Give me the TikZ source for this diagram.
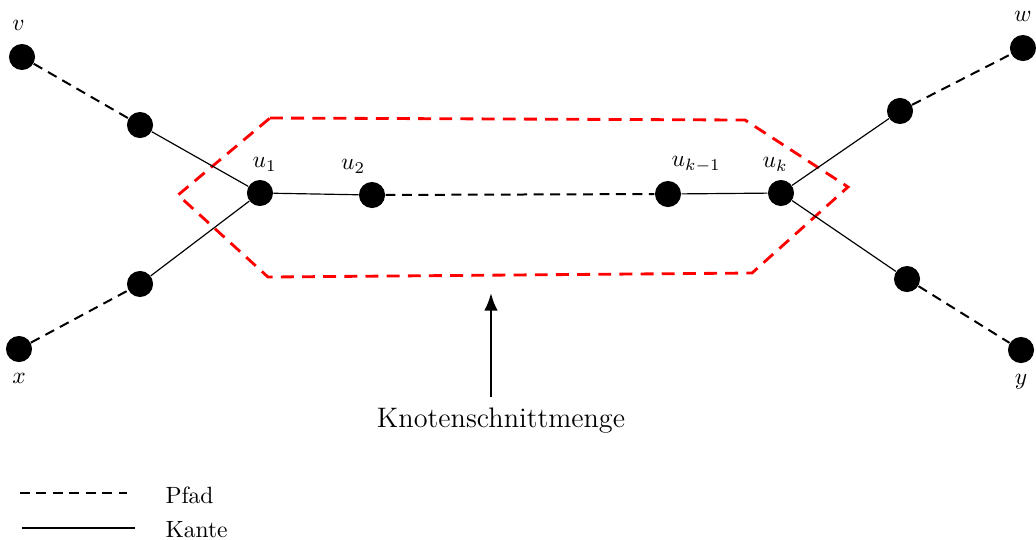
\documentclass[tikz,border=0pt]{standalone}
\usepackage{tikz}
\usetikzlibrary{arrows.meta}
\tikzstyle{vertex} = [circle, fill=black, minimum size=0.39cm, inner sep=0pt]
\tikzstyle{pfad} = [line width=0.85pt, dash pattern=on 4.2pt off 2.8pt]
\tikzstyle{kante} = [line width=0.5pt]
\tikzstyle{schnitt} = [red, line width=1.2pt, dash pattern=on 5.5pt off 3.5pt]
\tikzstyle{arrow} = [line width=1pt, -{Latex[length=7.5pt,width=5.8pt]}]

\begin{document}
\begin{tikzpicture}
        \useasboundingbox (0,0) rectangle (15.486,8.057);

        % the separating vertex set
        \draw [schnitt] (4.036,6.293) -- (11.136,6.263) -- (12.676,5.262) -- (11.241,3.976)
              -- (4.006,3.916) -- (2.661,5.142) -- cycle;

        \node (v) [vertex, label={[xshift=-1.5pt, label distance=2pt]above:$v$}] at (0.329,7.205) {};
        \node (v1) [vertex] at (2.093,6.188) {};
        \node (u1) [vertex, label={[xshift=2pt]above:$u_1$}] at (3.886,5.172) {};
        \node (u2) [vertex, label={[xshift=-8pt]above:$u_2$}] at (5.561,5.142) {};
        \node (uk1) [vertex, label={[xshift=12pt]above:$u_{k-1}$}] at (9.985,5.157) {};
        \node (uk) [vertex, label={[xshift=-2.5pt]above:$u_k$}] at (11.674,5.172) {};
        \node (w1) [vertex] at (13.453,6.398) {};
        \node (w) [vertex, label={[label distance=2pt]above:$w$}] at (15.291,7.339) {};
        \node (x1) [vertex] at (2.093,3.812) {};
        \node (x) [vertex, label={[label distance=1pt]below:$x$}] at (0.284,2.840) {};
        \node (y1) [vertex] at (13.558,3.886) {};
        \node (y) [vertex, label={[label distance=1pt]below:$y$}] at (15.262,2.825) {};

        \draw [pfad] (v) -- (v1);
        \draw [kante] (v1) -- (u1);
        \draw [pfad] (x) -- (x1);
        \draw [kante] (x1) -- (u1);
        \draw [kante] (u1) -- (u2);
        \draw [pfad] (u2) -- (uk1);
        \draw [kante] (uk1) -- (uk);
        \draw [kante] (uk) -- (w1);
        \draw [pfad] (w1) -- (w);
        \draw [kante] (uk) -- (y1);
        \draw [pfad] (y1) -- (y);

        % pointer to the cut
        \node (cut) at (7.489,1.764) {\large Knotenschnittmenge};
        \coordinate (tail) at (7.339,2.123);
        \coordinate (tip) at (7.339,3.677);
        \draw [arrow] (tail) -- (tip);

        % legend
        \draw [pfad] (0.299,0.688) -- (1.898,0.688);
        \draw [line width=0.8pt] (0.329,0.164) -- (2.018,0.164);
        \node (lpfad) [anchor=west] at (2.35,0.658) {Pfad};
        \node (lkante) [anchor=west] at (2.35,0.135) {Kante};
    \end{tikzpicture}
\end{document}
